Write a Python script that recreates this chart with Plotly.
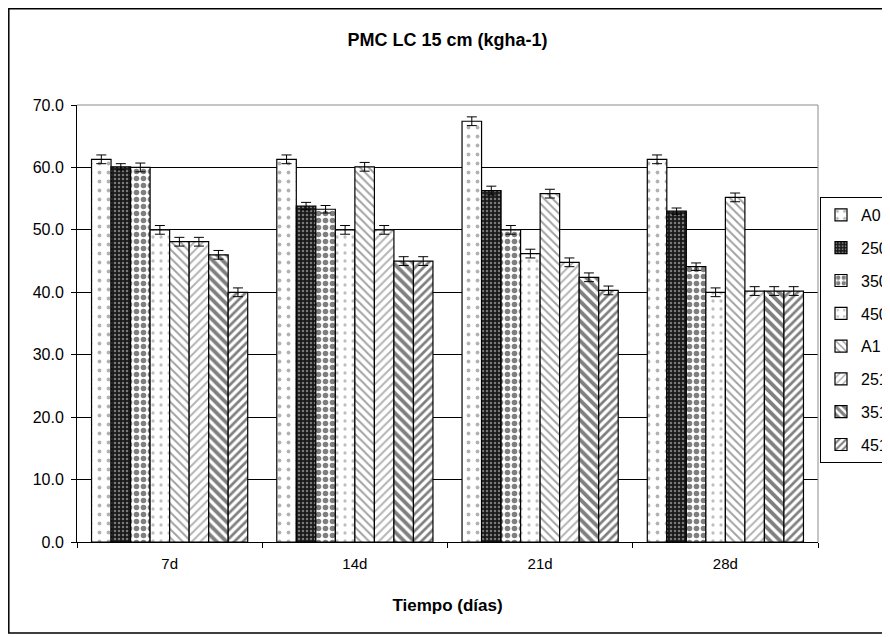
import plotly.graph_objects as go

categories = ["7d", "14d", "21d", "28d"]
series_names = ["A0", "250", "350", "450", "A1", "251", "351", "451"]
v_A0 = [61.3, 61.3, 67.4, 61.3]
v_250 = [60.1, 53.8, 56.3, 53.0]
v_350 = [60.0, 53.3, 50.0, 44.1]
v_450 = [50.0, 50.0, 46.2, 40.0]
v_A1 = [48.1, 60.1, 55.8, 55.2]
v_251 = [48.1, 50.0, 44.8, 40.2]
v_351 = [46.0, 45.0, 42.4, 40.2]
v_451 = [40.0, 45.0, 40.3, 40.2]
err_A0 = [0.7, 0.7, 0.7, 0.7]
err_250 = [0.5, 0.6, 0.7, 0.5]
err_350 = [0.7, 0.6, 0.7, 0.6]
err_450 = [0.7, 0.7, 0.7, 0.7]
err_A1 = [0.7, 0.7, 0.7, 0.7]
err_251 = [0.7, 0.7, 0.7, 0.7]
err_351 = [0.7, 0.7, 0.7, 0.7]
err_451 = [0.7, 0.7, 0.7, 0.7]

values = [v_A0, v_250, v_350, v_450, v_A1, v_251, v_351, v_451]
errors = [err_A0, err_250, err_350, err_450, err_A1, err_251, err_351, err_451]

patterns = [
    dict(shape=".", fgcolor="#666666", bgcolor="white", size=9, solidity=0.14),
    dict(shape=".", fgcolor="#d8d8d8", bgcolor="#1a1a1a", size=4, solidity=0.3),
    dict(shape=".", fgcolor="#000000", bgcolor="white", size=7, solidity=0.5),
    dict(shape=".", fgcolor="#808080", bgcolor="white", size=8, solidity=0.13),
    dict(shape="\\", fgcolor="#444444", bgcolor="white", size=6, solidity=0.32),
    dict(shape="/", fgcolor="#666666", bgcolor="white", size=6, solidity=0.32),
    dict(shape="\\", fgcolor="#000000", bgcolor="white", size=7, solidity=0.55),
    dict(shape="/", fgcolor="#000000", bgcolor="white", size=6, solidity=0.45),
]

FONT = "Liberation Sans, Arial, sans-serif"

fig = go.Figure()
for i, name in enumerate(series_names):
    fig.add_trace(go.Bar(
        x=categories, y=values[i], name=name,
        legendgroup=name,
        marker=dict(color="white", pattern=patterns[i],
                    line=dict(color="black", width=1.2)),
        error_y=dict(type="data", array=errors[i], visible=True,
                     color="black", thickness=1, width=5),
    ))

# figure sits at (8,8) inside the page (body margin)
L, R, T, B = 69, 72, 97, 95
W, H = 882, 629
pw, ph = W - L - R, H - T - B

def px_x(x):
    return (x - L) / pw

def px_y(y):
    return (H - B - y) / ph

fig.update_layout(
    width=W, height=H,
    margin=dict(l=L, r=R, t=T, b=B, autoexpand=False),
    paper_bgcolor="white", plot_bgcolor="white",
    barmode="group", bargap=0.157, bargroupgap=0,
    font=dict(family=FONT, size=15, color="black"),
    title=dict(text="<b>PMC LC 15 cm (kgha-1)</b>", x=0.5, xref="paper",
               y=1 - 32 / H, yanchor="middle", xanchor="center",
               font=dict(family=FONT, size=18, color="black")),
    legend=dict(x=px_x(812), y=px_y(189), xanchor="left", yanchor="top",
                bgcolor="white", bordercolor="black", borderwidth=1,
                font=dict(family=FONT, size=16, color="black"),
                tracegroupgap=9, itemwidth=30, traceorder="grouped"),
    showlegend=True,
)
fig.update_xaxes(
    type="category", showline=True, linecolor="black", linewidth=1,
    ticks="outside", tickson="boundaries", ticklen=5, tickcolor="black",
    showgrid=False, tickfont=dict(family=FONT, size=15), ticklabelstandoff=8,
    title=dict(text="<b>Tiempo (días)</b>", font=dict(family=FONT, size=17), standoff=28),
)
fig.update_yaxes(
    range=[0, 70], dtick=10, tickformat=".1f",
    showline=True, linecolor="black", linewidth=1,
    ticks="outside", ticklen=5, tickcolor="black",
    showgrid=True, gridcolor="black", gridwidth=1,
    zeroline=False, tickfont=dict(family=FONT, size=16), ticklabelstandoff=4,
)
# plot-area border (gray) top and right
fig.add_shape(type="line", xref="paper", yref="paper", x0=0, x1=1, y0=1, y1=1,
              line=dict(color="#8c8c8c", width=1), layer="above")
fig.add_shape(type="line", xref="paper", yref="paper", x0=1, x1=1, y0=0, y1=1,
              line=dict(color="#8c8c8c", width=1), layer="above")
# outer chart border
fig.add_shape(type="rect", xref="paper", yref="paper",
              x0=px_x(0.8), x1=px_x(W + 20), y0=px_y(625), y1=px_y(0.8),
              line=dict(color="black", width=1.5), fillcolor="rgba(0,0,0,0)",
              layer="above")

fig.write_html("out.html")
